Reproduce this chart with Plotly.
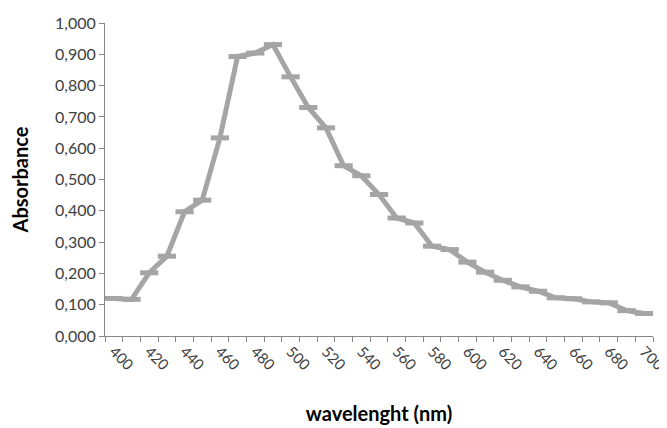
import plotly.graph_objects as go

wavelength = [400, 410, 420, 430, 440, 450, 460, 470, 480, 490, 500, 510, 520, 530, 540,
              550, 560, 570, 580, 590, 600, 610, 620, 630, 640, 650, 660, 670, 680, 690, 700]
absorbance = [0.120, 0.117, 0.202, 0.255, 0.397, 0.434, 0.633, 0.893, 0.904, 0.931, 0.828,
              0.730, 0.665, 0.544, 0.512, 0.452, 0.377, 0.361, 0.287, 0.276, 0.236, 0.204,
              0.178, 0.157, 0.143, 0.122, 0.119, 0.109, 0.106, 0.081, 0.072]
x_tick_labels = [400, 420, 440, 460, 480, 500, 520, 540, 560, 580, 600, 620, 640, 660, 680, 700]
y_ticks = [0.0, 0.1, 0.2, 0.3, 0.4, 0.5, 0.6, 0.7, 0.8, 0.9, 1.0]

line_color = "#A5A5A5"
axis_color = "#868686"
font_family = "Lato, 'Open Sans', sans-serif"

fig = go.Figure()
fig.add_trace(go.Scatter(
    x=wavelength, y=absorbance, mode="lines+markers",
    line=dict(color=line_color, width=5),
    marker=dict(symbol="line-ew", size=13, color=line_color,
                line=dict(color=line_color, width=5)),
    showlegend=False,
))

# the page body adds an 8px margin, so the figure is sized to fill the window after it
fig.update_layout(
    width=659, height=420,
    margin=dict(l=97, r=14, t=15, b=92),
    plot_bgcolor="white", paper_bgcolor="white",
    separators=",.",
    font=dict(family=font_family, size=16, color="#404040"),
    xaxis=dict(
        range=[395, 705], tickvals=x_tick_labels, ticktext=[str(v) for v in x_tick_labels],
        tickangle=45, ticks="", showgrid=False, zeroline=False, automargin=False,
        ticklabeloverflow="allow",
        showline=True, linecolor=axis_color, linewidth=1,
        tickfont=dict(size=15, color="#404040"),
        minor=dict(tick0=395, dtick=10, ticks="outside", ticklen=5, tickcolor=axis_color, showgrid=False),
        title=dict(text="<b>wavelenght (nm)</b>", font=dict(size=20, color="#000000"), standoff=34),
    ),
    yaxis=dict(
        range=[0, 1], tickvals=y_ticks, tickformat=".3f", automargin=False,
        ticks="outside", ticklen=5, tickcolor=axis_color,
        showgrid=False, zeroline=False,
        showline=True, linecolor=axis_color, linewidth=1,
        tickfont=dict(size=16, color="#404040"),
        title=dict(text="<b>Absorbance</b>", font=dict(size=20, color="#000000"), standoff=34),
    ),
)

fig.write_html("out.html")
